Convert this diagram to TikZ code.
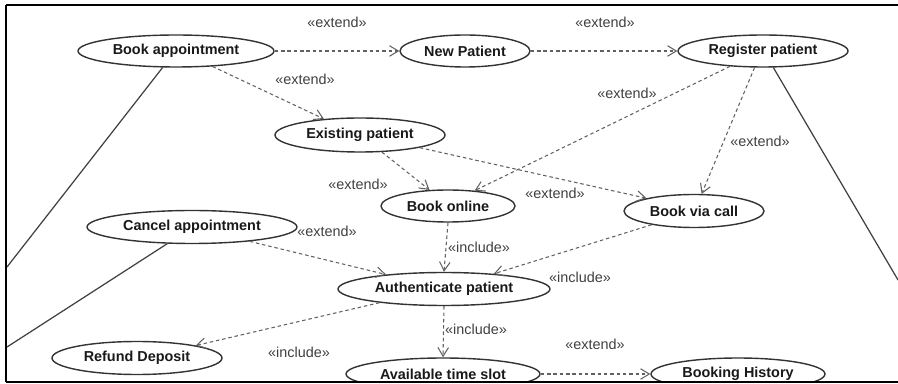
\documentclass[tikz,border=0pt]{standalone}
\usepackage{fontspec}
\setmainfont{Liberation Sans}
\usetikzlibrary{shapes.geometric,arrows.meta}

\tikzset{
  usecase/.style={ellipse, draw=black!80, line width=0.8pt, inner sep=0pt,
    minimum height=0.64cm, text=black!90, font=\fontsize{8.2}{10}\selectfont\bfseries},
  dep/.style={draw=black!62, line width=0.6pt, dash pattern=on 2pt off 1.6pt,
    -{Straight Barb[length=5pt,width=6pt,line width=0.6pt]}},
  assoc/.style={draw=black!75, line width=0.7pt},
  stereo/.style={text=black!75, font=\fontsize{8.2}{10}\selectfont}
}

\begin{document}
\begin{tikzpicture}[x=0.02cm,y=-0.02cm]
            \useasboundingbox (0,0) rectangle (898,384);

            \begin{scope}
            \clip (6,5) rectangle (898,382);

            % Top row use cases
            \node[usecase, minimum width=3.92cm] (ba) at (176,51) {Book appointment};
            \node[usecase, minimum width=2.6cm] (np) at (465,51) {New Patient};
            \node[usecase, minimum width=3.4cm] (rp) at (763,51) {Register patient};

            % Second stage nodes
            \node[usecase, minimum width=3.4cm, minimum height=0.68cm] (ep) at (360,135) {Existing patient};
            \node[usecase, minimum width=2.68cm] (bo) at (448,206) {Book online};
            \node[usecase, minimum width=2.8cm, minimum height=0.66cm] (bc) at (694,211) {Book via call};
            \node[usecase, minimum width=4.2cm, minimum height=0.66cm] (ca) at (192,227) {Cancel appointment};

            % Third stage nodes
            \node[usecase, minimum width=4.24cm, minimum height=0.66cm] (ap) at (444,289) {Authenticate patient};
            \node[usecase, minimum width=3.4cm, minimum height=0.66cm] (rd) at (137,358) {Refund Deposit};
            \node[usecase, minimum width=3.88cm] (at) at (443,374) {Available time slot};
            \node[usecase, minimum width=3.48cm] (bh) at (738,374) {Booking History};

            % Actor ends (outside the frame)
            \coordinate (actorA) at (7,267);
            \coordinate (actorB) at (7,347);
            \coordinate (actorC) at (898,280);

            % Associations
            \draw[assoc] (ba.231) -- (actorA);
            \draw[assoc] (ca.214) -- (actorB);
            \draw[assoc] (rp.302) -- (actorC);

            % Dependencies
            \draw[dep] (ba.east) -- (np.west);
            \draw[dep] (np.east) -- (rp.west);
            \draw[dep] (ba.-23) -- (ep.156);
            \draw[dep] (ep.-38) -- (bo.139);
            \draw[dep] (ep.-12) -- (bc.165);
            \draw[dep] (rp.205) -- (bo.30);
            \draw[dep] (rp.243) -- (bc.66);
            \draw[dep] (bo.south) -- (ap.north);
            \draw[dep] (bc.198) -- (ap.17);
            \draw[dep] (ca.-14) -- (ap.166);
            \draw[dep] (ap.192) -- (rd.12);
            \draw[dep] (ap.south) -- (at.north);
            \draw[dep] (at.east) -- (bh.west);

            % Stereotype labels
            \node[stereo] (l1) at (337,22) {«extend»};
            \node[stereo] (l2) at (605,22) {«extend»};
            \node[stereo] (l3) at (305,79) {«extend»};
            \node[stereo] (l4) at (358,184) {«extend»};
            \node[stereo] (l5) at (555,193) {«extend»};
            \node[stereo] (l6) at (627,93) {«extend»};
            \node[stereo] (l7) at (760,141) {«extend»};
            \node[stereo] (l8) at (479,247) {«include»};
            \node[stereo] (l9) at (580,277) {«include»};
            \node[stereo] (l10) at (327,231) {«extend»};
            \node[stereo] (l11) at (299,352) {«include»};
            \node[stereo] (l12) at (476,329) {«include»};
            \node[stereo] (l13) at (595,344) {«extend»};
            \end{scope}

            % Frame
            \draw[line width=1.2pt] (6,5) -- (898,5);
            \draw[line width=0.9pt] (6,5) -- (6,382);
            \draw[line width=1.2pt] (6,382) -- (898,382);
        \end{tikzpicture}
\end{document}
